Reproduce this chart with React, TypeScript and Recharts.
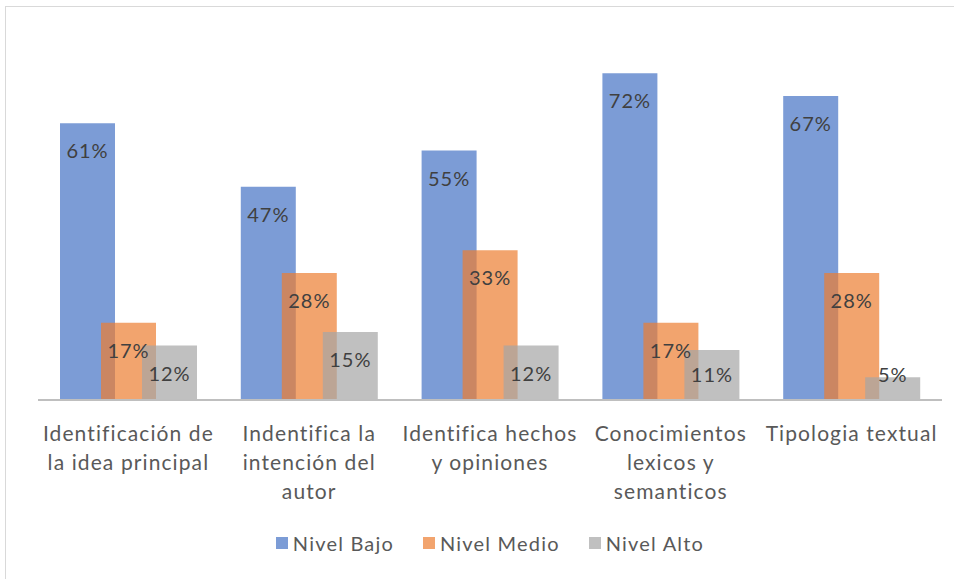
import { BarChart, Bar, XAxis, YAxis, Legend, LabelList } from 'recharts'

const categories = [
  'Identificación de la idea principal',
  'Indentifica la intención del autor',
  'Identifica hechos y opiniones',
  'Conocimientos lexicos y semanticos',
  'Tipologia textual',
]

const tickLines = [
  ['Identificación de', 'la idea principal'],
  ['Indentifica la', 'intención del', 'autor'],
  ['Identifica hechos', 'y opiniones'],
  ['Conocimientos', 'lexicos y', 'semanticos'],
  ['Tipologia textual'],
]

const nivelBajo = [61, 47, 55, 72, 67]
const nivelMedio = [17, 28, 33, 17, 28]
const nivelAlto = [12, 15, 12, 11, 5]

const series = [
  { key: 'bajo', name: 'Nivel Bajo', color: '#4472C4' },
  { key: 'medio', name: 'Nivel Medio', color: '#ED7D31' },
  { key: 'alto', name: 'Nivel Alto', color: '#A5A5A5' },
]

const data = categories.map((c, i) => ({
  category: c,
  bajo: nivelBajo[i],
  medio: nivelMedio[i],
  alto: nivelAlto[i],
}))

const FONT = 'Lato, "Open Sans", sans-serif'

const CategoryTick = (props: any) => {
  const { x, y, index } = props
  const lines = tickLines[index] || []
  return (
    <g>
      {lines.map((l, i) => (
        <text
          key={i}
          x={x}
          y={y + 28 + i * 29}
          textAnchor="middle"
          dominantBaseline="middle"
          fontSize={21}
          letterSpacing={1.1}
          fill="#595959"
          fontFamily={FONT}
        >
          {l}
        </text>
      ))}
    </g>
  )
}

const ValueLabel = (props: any) => {
  const { x, y, width, height, value } = props
  const cy = Math.min(y + 30, y + height - 23)
  return (
    <text
      x={x + width / 2}
      y={cy}
      textAnchor="middle"
      dominantBaseline="middle"
      fontSize={20}
      letterSpacing={1}
      fill="#404040"
      fontFamily={FONT}
    >
      {value}%
    </text>
  )
}

const LegendContent = () => (
  <div
    style={{
      display: 'flex',
      justifyContent: 'center',
      gap: 29,
      fontFamily: FONT,
      fontSize: 20,
      letterSpacing: 1.2,
      color: '#595959',
    }}
  >
    {series.map((s) => (
      <div key={s.key} style={{ display: 'flex', alignItems: 'center', gap: 5 }}>
        <span
          style={{
            display: 'inline-block',
            width: 12,
            height: 12,
            background: s.color,
            opacity: 0.7,
          }}
        />
        <span>{s.name}</span>
      </div>
    ))}
  </div>
)

export default function App() {
  return (
    <div
      style={{
        position: 'absolute',
        left: 0,
        top: 0,
        width: 954,
        height: 579,
        background: '#fff',
      }}
    >
      <div
        style={{
          position: 'absolute',
          left: 5,
          top: 6,
          width: 960,
          height: 580,
          border: '1px solid #d9d9d9',
        }}
      />
      <BarChart
        width={954}
        height={579}
        data={data}
        margin={{ top: 37, right: 12, left: 38, bottom: 125 }}
        barCategoryGap={22}
        barGap={-14}
        barSize={55}
      >
        <XAxis
          dataKey="category"
          tick={<CategoryTick />}
          tickLine={false}
          axisLine={{ stroke: '#bfbfbf', strokeWidth: 2 }}
          interval={0}
          height={30}
        />
        <YAxis hide domain={[0, 80]} />
        <Legend
          content={<LegendContent />}
          wrapperStyle={{ position: 'absolute', top: 531, left: 0, width: 980 }}
        />
        {series.map((s) => (
          <Bar
            key={s.key}
            dataKey={s.key}
            name={s.name}
            fill={s.color}
            fillOpacity={0.7}
            isAnimationActive={false}
          >
            <LabelList dataKey={s.key} content={<ValueLabel />} />
          </Bar>
        ))}
      </BarChart>
    </div>
  )
}
